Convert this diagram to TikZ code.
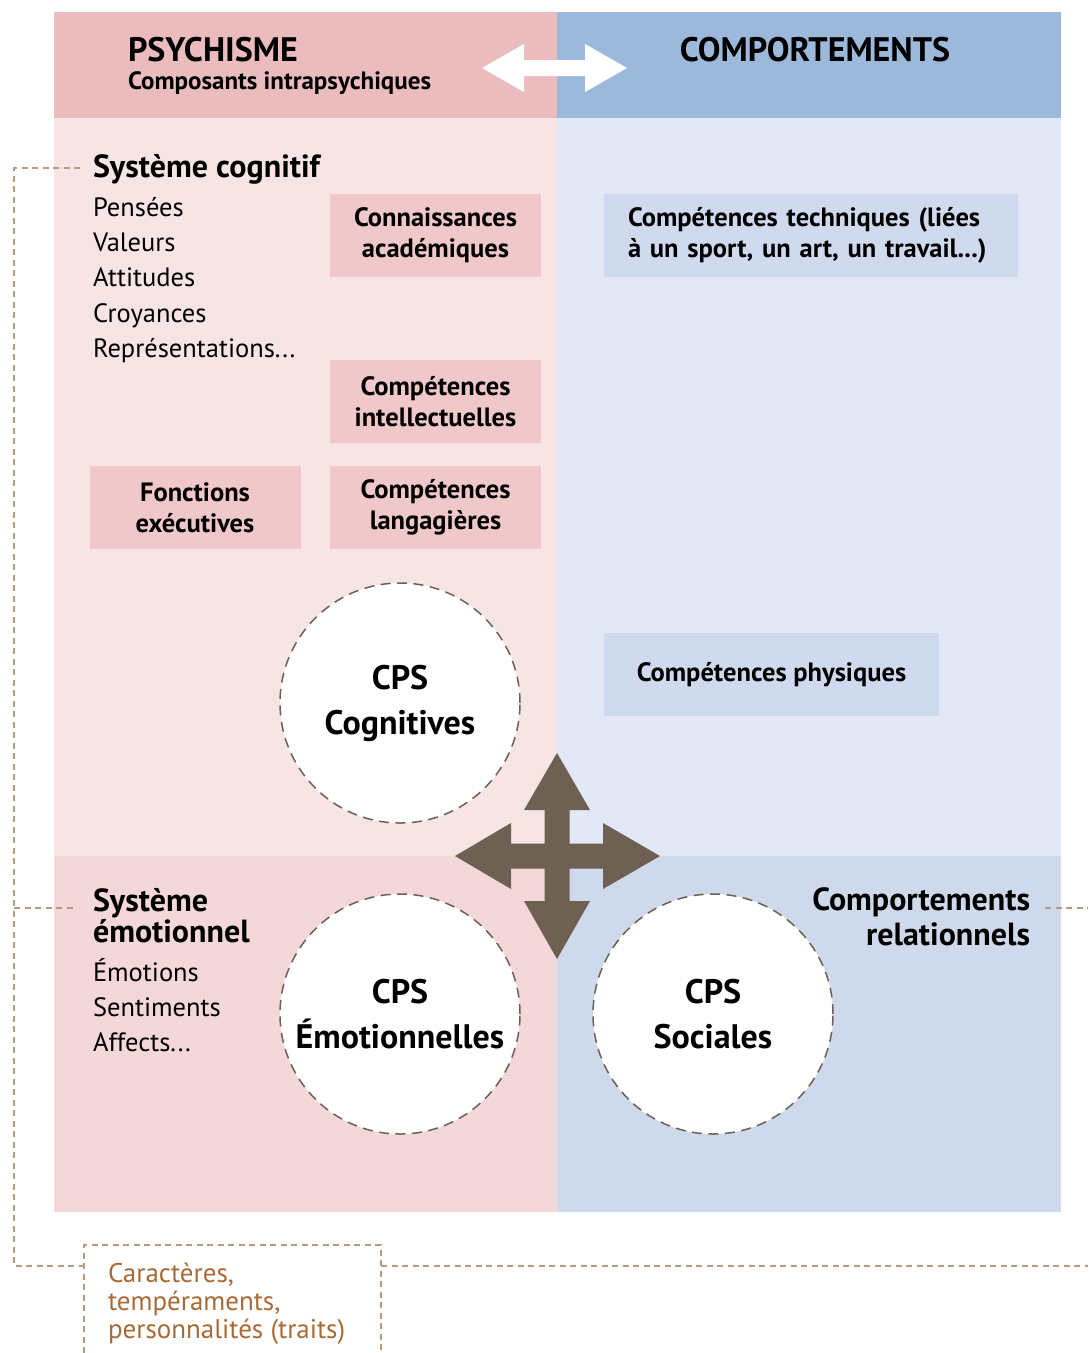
\documentclass[tikz,border=0pt]{standalone}
\usepackage{fontspec}
\setmainfont{PT Sans}
\definecolor{hpink}{HTML}{EBBCBD}
\definecolor{hblue}{HTML}{9CB9DC}
\definecolor{upink}{HTML}{F7E5E6}
\definecolor{ublue}{HTML}{E2E8F5}
\definecolor{lpink}{HTML}{F4D7D8}
\definecolor{lblue}{HTML}{CEDAEC}
\definecolor{bpink}{HTML}{F0C8C9}
\definecolor{bblue}{HTML}{CFDAEE}
\definecolor{darrow}{HTML}{6E6052}
\definecolor{dashc}{HTML}{B89A80}
\definecolor{browntext}{HTML}{A86A35}
\begin{document}
\begin{tikzpicture}[x=1pt,y=-1pt,
  every node/.style={inner sep=0pt,outer sep=0pt},
  title/.style={font=\fontsize{32}{33}\selectfont\bfseries,anchor=mid west},
  item/.style={font=\fontsize{26.5}{28}\selectfont,anchor=mid west},
  pbox/.style={fill=bpink,minimum width=211pt,minimum height=83pt,align=center,font=\fontsize{26.5}{31}\selectfont\bfseries},
  bbox/.style={fill=bblue,minimum height=83pt,align=left,font=\fontsize{26.5}{31}\selectfont\bfseries},
  cps/.style={circle,fill=white,draw=darrow,dashed,dash pattern=on 10pt off 6.5pt,line width=1.5pt,minimum size=240pt,align=center,font=\fontsize{34}{45}\selectfont\bfseries},
  trait/.style={draw=dashc,line width=1.2pt,dash pattern=on 6pt off 4.5pt}
]
\useasboundingbox (0,0) rectangle (1088,1353);
% backgrounds
\fill[hpink] (54,12) rectangle (557,118);
\fill[hblue] (557,12) rectangle (1061,118);
\fill[upink] (54,118) rectangle (557,856);
\fill[ublue] (557,118) rectangle (1061,856);
\fill[lpink] (54,856) rectangle (557,1212);
\fill[lblue] (557,856) rectangle (1061,1212);
% header
\node[anchor=mid west,font=\fontsize{34}{36}\selectfont\bfseries] (psy) at (128,59) {PSYCHISME};
\node[anchor=mid west,font=\fontsize{25}{27}\selectfont\bfseries] (comp) at (128,87) {Composants intrapsychiques};
\node[anchor=mid,font=\fontsize{34}{36}\selectfont\bfseries] (cmpt) at (815,59) {COMPORTEMENTS};
\fill[white] (482,68) -- (524,44) -- (524,60) -- (585,60) -- (585,44) -- (627,68) -- (585,92) -- (585,76) -- (524,76) -- (524,92) -- cycle;
% cognitive system
\node[title] (scog) at (93,175) {Système cognitif};
\node[item] (i1) at (93,214) {Pensées};
\node[item] (i2) at (93,249) {Valeurs};
\node[item] (i3) at (93,284) {Attitudes};
\node[item] (i4) at (93,320) {Croyances};
\node[item] (i5) at (93,355) {Représentations...};
\node[pbox] (ca) at (435.5,235.5) {Connaissances\\académiques};
\node[pbox] (ci) at (435.5,401.5) {Compétences\\intellectuelles};
\node[pbox] (fe) at (195,507.5) {Fonctions\\exécutives};
\node[pbox] (cl) at (435.5,507.5) {Compétences\\langagières};
\node[bbox,minimum width=414pt,anchor=west,text width=366pt] (ct) at (604,235.5) {Compétences techniques (liées\\à un sport, un art, un travail...)};
\node[bbox,minimum width=335pt,anchor=west,align=center] (cp) at (604,674.5) {Compétences physiques};
% circles
\node[cps] (cc) at (400,703) {CPS\\Cognitives};
\node[cps] (ce) at (400,1014) {CPS\\Émotionnelles};
\node[cps] (cs) at (713,1014) {CPS\\Sociales};
% four-way arrow
\fill[darrow] (557,753) -- (590,810) -- (569.5,810) -- (569.5,843.5) -- (603,843.5) -- (603,823) -- (660,856) -- (603,889) -- (603,868.5) -- (569.5,868.5) -- (569.5,901) -- (590,901) -- (557,959) -- (524,901) -- (544.5,901) -- (544.5,868.5) -- (511,868.5) -- (511,889) -- (455,856) -- (511,823) -- (511,843.5) -- (544.5,843.5) -- (544.5,810) -- (524,810) -- cycle;
% emotional system
\node[align=left,anchor=north west,font=\fontsize{32}{31}\selectfont\bfseries] (semo) at (93,888) {Système\\émotionnel};
\node[item] (e1) at (93,979) {Émotions};
\node[item] (e2) at (93,1014) {Sentiments};
\node[item] (e3) at (93,1049) {Affects...};
\node[align=right,anchor=north east,font=\fontsize{32}{35}\selectfont\bfseries] (crel) at (1030,888) {Comportements\\relationnels};
% traits box
\node[anchor=north west,align=left,text=browntext,font=\fontsize{27}{28}\selectfont] (traits) at (108,1263) {Caractères,\\tempéraments,\\personnalités (traits)};
\coordinate (bxtl) at (84,1245);
\coordinate (bxtr) at (381,1245);
\coordinate (bxbl) at (84,1353);
\coordinate (bxbr) at (381,1353);
\draw[trait] (bxbl) -- (bxtl) -- (bxtr) -- (bxbr);
% dashed connectors
\coordinate (lc) at (14,168);
\coordinate (lcend) at (80,168);
\coordinate (le) at (14,908);
\coordinate (leend) at (75,908);
\coordinate (lb) at (14,1266);
\coordinate (rb) at (1088,1266);
\coordinate (re) at (1088,908);
\coordinate (restart) at (1045,908);
\draw[trait] (lcend) -- (lc) -- (lb) -- (bxtl |- lb);
\draw[trait] (le) -- (leend);
\draw[trait] (bxtr |- rb) -- (rb);
\draw[trait] (restart) -- (re);
\end{tikzpicture}
\end{document}
